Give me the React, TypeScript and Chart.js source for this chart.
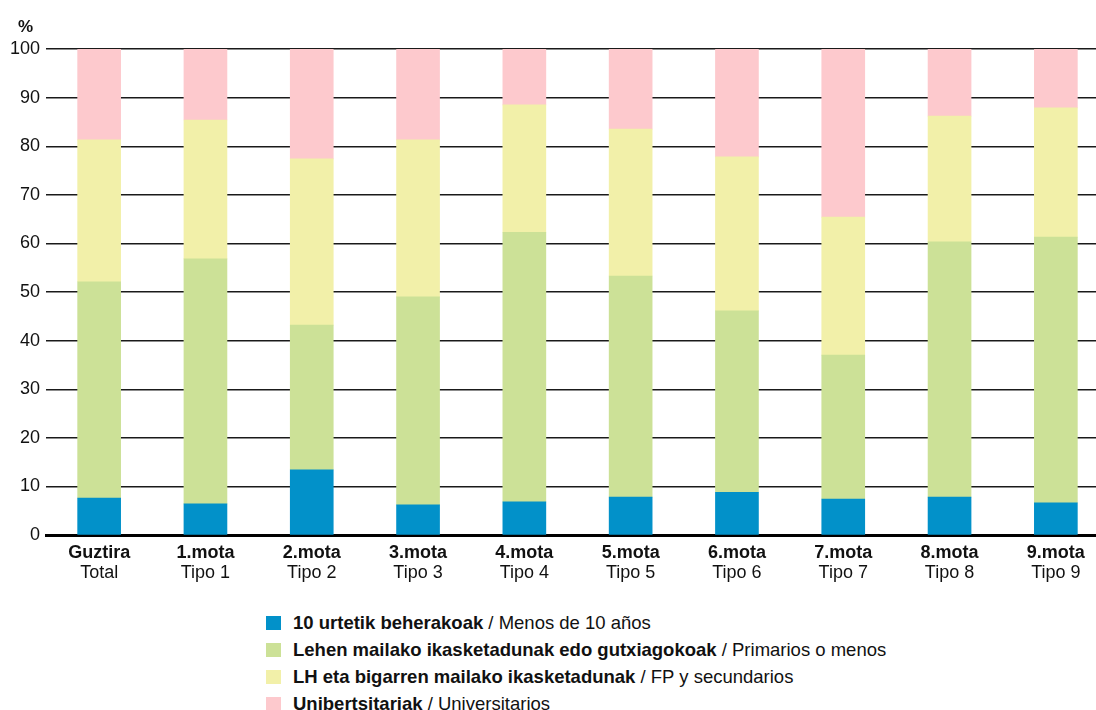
import React, { useEffect, useRef } from "react";
import { Chart, registerables } from "chart.js";

Chart.register(...registerables);

const categoriesEu = ["Guztira", "1.mota", "2.mota", "3.mota", "4.mota", "5.mota", "6.mota", "7.mota", "8.mota", "9.mota"];
const categoriesEs = ["Total", "Tipo 1", "Tipo 2", "Tipo 3", "Tipo 4", "Tipo 5", "Tipo 6", "Tipo 7", "Tipo 8", "Tipo 9"];

const menos10 = [7.6, 6.4, 13.4, 6.2, 6.8, 7.8, 8.8, 7.4, 7.8, 6.6];
const primarios = [44.5, 50.4, 29.8, 42.8, 55.5, 45.5, 37.3, 29.6, 52.5, 54.7];
const secundarios = [29.2, 28.6, 34.2, 32.3, 26.2, 30.2, 31.7, 28.4, 25.9, 26.6];
const universitarios = [18.7, 14.6, 22.6, 18.7, 11.5, 16.5, 22.2, 34.6, 13.8, 12.1];

const seriesEu = [
  "10 urtetik beherakoak",
  "Lehen mailako ikasketadunak edo gutxiagokoak",
  "LH eta bigarren mailako ikasketadunak",
  "Unibertsitariak",
];
const seriesEs = ["Menos de 10 años", "Primarios o menos", "FP y secundarios", "Universitarios"];
const colors = ["#0291c9", "#cce197", "#f2f0a9", "#fdc9cd"];

const FONT = '"Liberation Sans", Arial, sans-serif';

export default function App() {
  const ref = useRef<HTMLCanvasElement | null>(null);

  useEffect(() => {
    document.body.style.margin = "0";
    document.body.style.overflow = "hidden";
    const ctx = ref.current;
    if (!ctx) return;
    const values = [menos10, primarios, secundarios, universitarios];
    const chart = new Chart(ctx, {
      type: "bar",
      data: {
        labels: categoriesEu,
        datasets: values.map((v, i) => ({
          label: seriesEu[i],
          data: v,
          backgroundColor: colors[i],
          borderWidth: 0,
          barThickness: 43,
          xAxisID: "x",
        })),
      },
      options: {
        animation: false,
        responsive: false,
        devicePixelRatio: 1,
        layout: { padding: { top: 49, right: 3, bottom: 8, left: 0 } },
        plugins: { legend: { display: false }, tooltip: { enabled: false } },
        scales: {
          x: {
            type: "category",
            stacked: true,
            offset: true,
            weight: 0,
            afterFit: (axis: any) => {
              axis.height = 27;
            },
            grid: { display: false, drawTicks: false },
            border: { display: true, color: "#000", width: 3 },
            ticks: {
              padding: 7,
              color: "#111",
              font: { family: FONT, size: 18, weight: "bold" },
              maxRotation: 0,
              autoSkip: false,
            },
          },
          x2: {
            type: "category",
            labels: categoriesEs,
            position: "bottom",
            offset: true,
            weight: 1,
            clip: false,
            afterFit: (axis: any) => {
              axis.height = 30;
            },
            grid: { display: false, drawTicks: false },
            border: { display: false },
            ticks: {
              padding: 0,
              color: "#111",
              font: { family: FONT, size: 18 },
              maxRotation: 0,
              autoSkip: false,
            },
          },
          y: {
            stacked: true,
            min: 0,
            max: 100,
            afterFit: (axis: any) => {
              axis.width = 46;
            },
            grid: { color: "#1a1a1a", lineWidth: 1.4, drawTicks: false },
            border: { display: false },
            ticks: {
              stepSize: 10,
              padding: 6,
              color: "#111",
              font: { family: FONT, size: 18 },
            },
          },
        },
      },
    });
    return () => chart.destroy();
  }, []);

  return (
    <div style={{ position: "absolute", left: 0, top: 0, width: 1096, height: 710, overflow: "hidden", background: "#fff", fontFamily: FONT, color: "#111" }}>
      <canvas ref={ref} width={1112} height={600} style={{ position: "absolute", left: 0, top: 0, width: 1112, height: 600 }} />
      <div style={{ position: "absolute", left: 18, top: 17, fontSize: 17, fontWeight: "bold", lineHeight: "20px" }}>%</div>
      {seriesEu.map((s, i) => (
        <div key={s} style={{ position: "absolute", left: 266, top: 612 + i * 27, height: 22, display: "flex", alignItems: "center", fontSize: 18.5, whiteSpace: "nowrap" }}>
          <span style={{ display: "inline-block", width: 15, height: 14, background: colors[i], marginRight: 12, flexShrink: 0 }} />
          <span style={{ fontWeight: "bold" }}>{s}</span>
          <span>&nbsp;/ {seriesEs[i]}</span>
        </div>
      ))}
    </div>
  );
}
